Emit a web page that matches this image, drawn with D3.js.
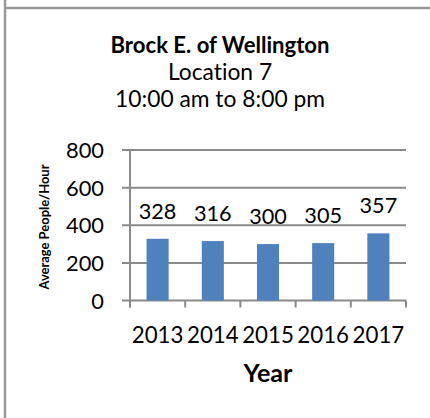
<!DOCTYPE html>
<html><head><meta charset="utf-8">
<script src="https://cdn.jsdelivr.net/npm/d3@7"></script>
<style>
html,body{margin:0;padding:0;background:#fff;}
svg{display:block;}
text{font-family:Lato, "Open Sans", sans-serif;fill:#000;font-variant-ligatures:none;font-feature-settings:"liga" 0, "clig" 0;}
</style></head>
<body>
<svg id="chart" width="430" height="418"></svg>
<script>
const years = ["2013","2014","2015","2016","2017"];
const values = [328, 316, 300, 305, 357];
const yTicks = [0, 200, 400, 600, 800];
const titleLines = ["Brock E. of Wellington", "Location 7", "10:00 am to 8:00 pm"];
const yAxisTitle = "Average People/Hour";
const xAxisTitle = "Year";

const svg = d3.select("#chart");
const W = 430, H = 418;
const margin = {left: 130, right: 24, top: 150, bottom: 117.5};

// size a text element's font so its width matches the target width
function fit(sel, target, start) {
  sel.each(function() {
    const el = d3.select(this);
    el.style("font-size", start + "px");
    const w = this.getComputedTextLength();
    if (w > 0) el.style("font-size", (start * target / w).toFixed(2) + "px");
  });
  return sel;
}

// outer border (top and left edges visible)
svg.append("line").attr("x1",5).attr("x2",W).attr("y1",8).attr("y2",8)
  .attr("stroke","#999").attr("stroke-width",2.5);
svg.append("line").attr("x1",5).attr("x2",5).attr("y1",0).attr("y2",H)
  .attr("stroke","#999").attr("stroke-width",2.5);

const x = d3.scaleBand().domain(years).range([margin.left, W - margin.right]).paddingInner(0.6).paddingOuter(0.3);
const y = d3.scaleLinear().domain([0, 800]).range([H - margin.bottom, margin.top]);

// gridlines
svg.append("g").selectAll("line").data(yTicks).join("line")
  .attr("x1", margin.left - 8).attr("x2", W - margin.right)
  .attr("y1", d => y(d)).attr("y2", d => y(d))
  .attr("stroke", "#8a8a8a").attr("stroke-width", 2);

// y axis line
svg.append("line").attr("x1", margin.left).attr("x2", margin.left)
  .attr("y1", y(800)).attr("y2", y(0) + 7)
  .attr("stroke", "#8a8a8a").attr("stroke-width", 2);

// x category tick marks at band boundaries
const bounds = years.map((d,i) => margin.left + i * (W - margin.right - margin.left) / years.length);
bounds.push(W - margin.right);
svg.append("g").selectAll("line").data(bounds).join("line")
  .attr("x1", d => d).attr("x2", d => d)
  .attr("y1", y(0)).attr("y2", y(0) + 7)
  .attr("stroke", "#8a8a8a").attr("stroke-width", 2);

// bars
svg.append("g").selectAll("rect").data(values).join("rect")
  .attr("x", (d,i) => x(years[i]))
  .attr("width", x.bandwidth())
  .attr("y", d => y(d))
  .attr("height", d => y(0) - y(d))
  .attr("fill", "#4f81bd");

// data labels
const dl = svg.append("g").selectAll("text").data(values).join("text")
  .attr("x", (d,i) => x(years[i]) + x.bandwidth()/2)
  .attr("y", d => y(d) - 20)
  .attr("text-anchor","middle")
  .text(d => d);
fit(dl, 37.7, 22);

// y tick labels
const yl = svg.append("g").selectAll("text").data(yTicks.slice(1)).join("text")
  .attr("x", 104).attr("y", d => y(d) + 8)
  .attr("text-anchor","end")
  .text(d => d);
fit(yl, 38, 22);
const ylFont = yl.style("font-size");
svg.append("text").attr("x", 104).attr("y", y(0) + 8).attr("text-anchor","end")
  .style("font-size", ylFont).text(yTicks[0]);

// x tick labels
const xl = svg.append("g").selectAll("text").data(years).join("text")
  .attr("x", d => x(d) + x.bandwidth()/2).attr("y", 343)
  .attr("text-anchor","middle")
  .text(d => d);
fit(xl, 51.7, 22);

// titles
const tcx = 220;
fit(svg.append("text").attr("x", tcx).attr("y", 53).attr("text-anchor","middle")
  .style("font-weight","bold").text(titleLines[0]), 219, 18);
const sub2 = svg.append("text").attr("x", tcx).attr("y", 107).attr("text-anchor","middle")
  .text(titleLines[2]);
fit(sub2, 210, 18);
svg.append("text").attr("x", tcx).attr("y", 80).attr("text-anchor","middle")
  .style("font-size", sub2.style("font-size")).text(titleLines[1]);

// axis titles
fit(svg.append("text").attr("transform","translate(49,227) rotate(-90)")
  .attr("text-anchor","middle").style("font-weight","bold")
  .text(yAxisTitle), 125, 11);
fit(svg.append("text").attr("x", 268).attr("y", 382).attr("text-anchor","middle")
  .style("font-weight","bold").text(xAxisTitle), 49, 20);
</script>
</body></html>
